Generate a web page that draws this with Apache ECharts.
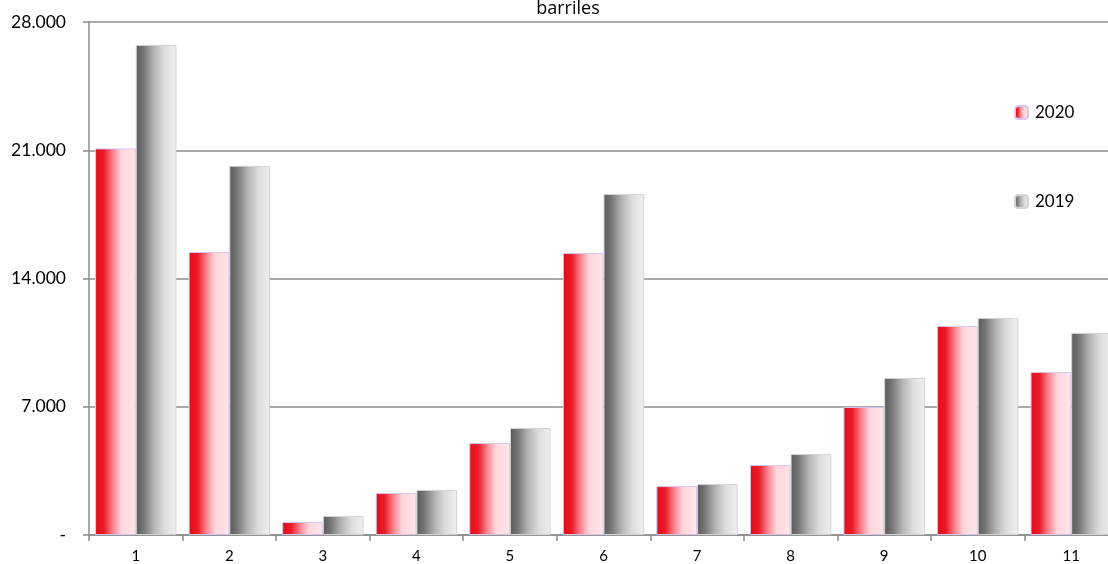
<!DOCTYPE html>
<html>
<head>
<meta charset="utf-8">
<script src="https://cdn.jsdelivr.net/npm/echarts@6/dist/echarts.min.js"></script>
<style>html,body{margin:0;padding:0;background:#fff;overflow:hidden;width:1108px;height:564px}#c{width:1118px;height:564px}</style>
</head>
<body>
<div id="c"></div>
<script>
const categories = ['1','2','3','4','5','6','7','8','9','10','11'];
const seriesNames = ['2020','2019'];
const values2020 = [21100,15450,710,2290,5020,15390,2670,3820,6990,11410,8900];
const values2019 = [26750,20150,1040,2460,5840,18610,2780,4420,8570,11850,11030];
const yTicks = [0,7000,14000,21000,28000];

function fmt(v){
  if(v===0) return '-';
  return String(Math.round(v)).replace(/\B(?=(\d{3})+(?!\d))/g,'.');
}
const redGrad = new echarts.graphic.LinearGradient(0,0,1,0,[
  {offset:0,color:'#e30c18'},{offset:0.22,color:'#ea1c28'},{offset:0.45,color:'#fb8894'},{offset:0.65,color:'#ffd6dc'},{offset:1,color:'#ffe6ea'}
]);
const grayGrad = new echarts.graphic.LinearGradient(0,0,1,0,[
  {offset:0,color:'#5a5a5a'},{offset:0.18,color:'#747474'},{offset:0.45,color:'#b4b4b4'},{offset:0.7,color:'#dcdcdc'},{offset:1,color:'#f0f0f0'}
]);
const chart = echarts.init(document.getElementById('c'),null,{renderer:'canvas',width:1118,height:564});
chart.setOption({
  animation:false,
  backgroundColor:'#fff',
  title:{text:'barriles',left:563,textAlign:'center',top:-5,textStyle:{fontFamily:'Open Sans',fontSize:18,fontWeight:'normal',color:'#000'}},
  legend:{orient:'vertical',left:1009,top:99,itemWidth:13,itemHeight:13,itemGap:72,
    textStyle:{fontFamily:'Lato',fontSize:17,lineHeight:16,color:'#000',padding:[0,0,0,2]},
    data:seriesNames},
  grid:{left:89,right:0,top:22,bottom:29,containLabel:false},
  xAxis:{type:'category',data:categories,boundaryGap:true,
    axisLine:{lineStyle:{color:'#8c8c8c',width:1.5}},
    axisTick:{show:true,length:6,lineStyle:{color:'#8c8c8c',width:1.5}},
    axisLabel:{fontFamily:'Lato',fontSize:15,color:'#000',margin:14}},
  yAxis:{type:'value',min:0,max:28000,interval:7000,
    axisLine:{show:true,lineStyle:{color:'#8c8c8c',width:1.5}},
    axisTick:{show:true,length:6,lineStyle:{color:'#8c8c8c',width:1.5}},
    splitLine:{lineStyle:{color:'#8c8c8c',width:1.5}},
    axisLabel:{fontFamily:'Lato',fontSize:17.5,color:'#000',margin:23,formatter:fmt}},
  series:[
    {name:seriesNames[0],type:'bar',data:values2020,barGap:'0%',barCategoryGap:'13%',
      itemStyle:{color:redGrad,borderColor:'#d8c6ee',borderWidth:1}},
    {name:seriesNames[1],type:'bar',data:values2019,barGap:'0%',barCategoryGap:'13%',
      itemStyle:{color:grayGrad,borderColor:'#d4d4d4',borderWidth:1}}
  ]
});
</script>
</body>
</html>
